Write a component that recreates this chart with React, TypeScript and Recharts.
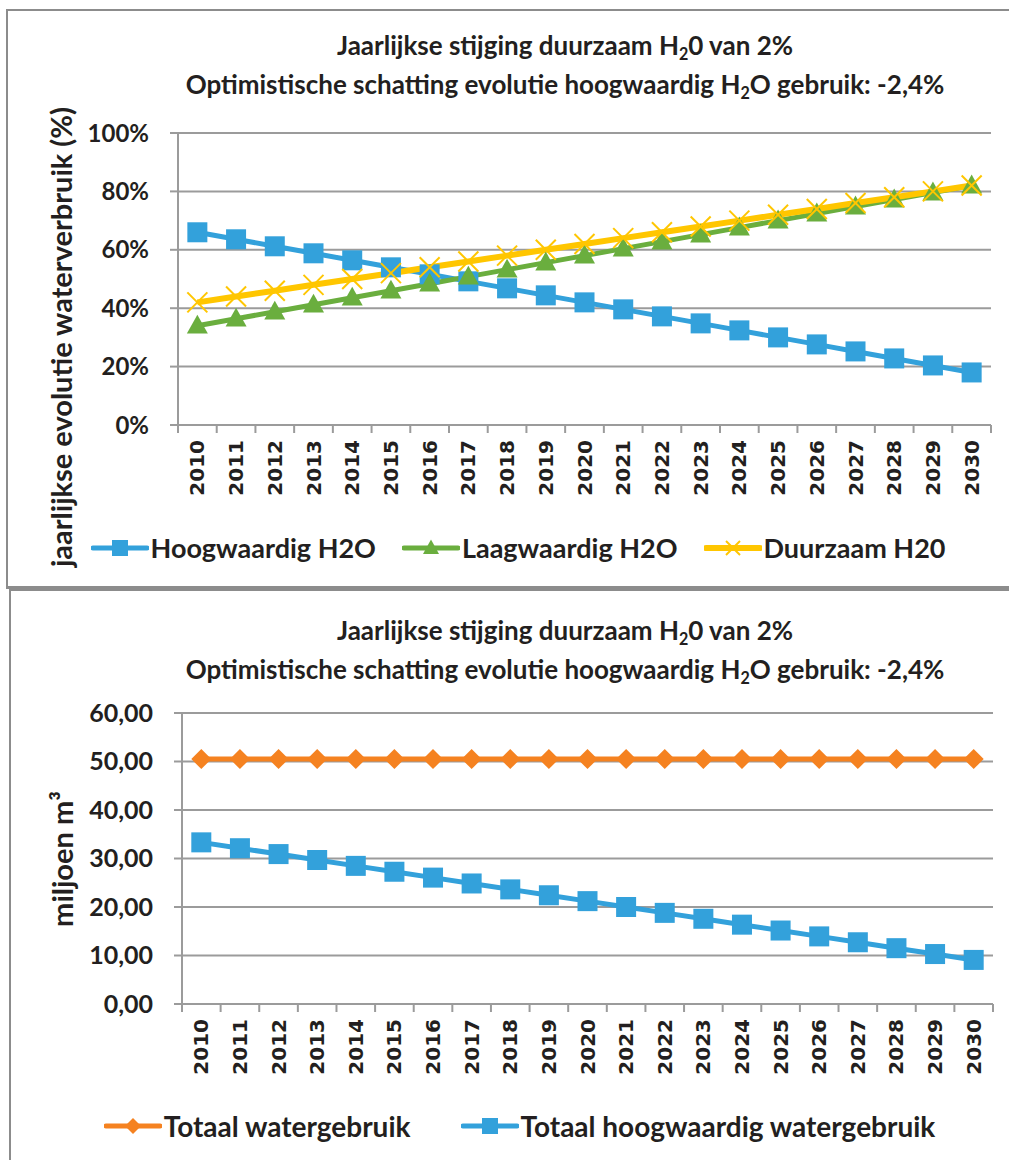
import React from "react";
import { LineChart, Line, XAxis, YAxis, CartesianGrid, Legend } from "recharts";

const years = [
  "2010", "2011", "2012", "2013", "2014", "2015", "2016", "2017", "2018", "2019", "2020",
  "2021", "2022", "2023", "2024", "2025", "2026", "2027", "2028", "2029", "2030",
];

// jaarlijkse evolutie waterverbruik (%)
const hoogwaardigPct = [66, 63.6, 61.2, 58.8, 56.4, 54, 51.6, 49.2, 46.8, 44.4, 42, 39.6, 37.2, 34.8, 32.4, 30, 27.6, 25.2, 22.8, 20.4, 18];
const laagwaardigPct = [34, 36.4, 38.8, 41.2, 43.6, 46, 48.4, 50.8, 53.2, 55.6, 58, 60.4, 62.8, 65.2, 67.6, 70, 72.4, 74.8, 77.2, 79.6, 82];
const duurzaamPct = [42, 44, 46, 48, 50, 52, 54, 56, 58, 60, 62, 64, 66, 68, 70, 72, 74, 76, 78, 80, 82];

// miljoen m3
const totaalWater = [50.5, 50.5, 50.5, 50.5, 50.5, 50.5, 50.5, 50.5, 50.5, 50.5, 50.5, 50.5, 50.5, 50.5, 50.5, 50.5, 50.5, 50.5, 50.5, 50.5, 50.5];
const totaalHoogwaardig = [33.33, 32.12, 30.91, 29.69, 28.48, 27.27, 26.06, 24.85, 23.63, 22.42, 21.21, 20.0, 18.79, 17.57, 16.36, 15.15, 13.94, 12.73, 11.51, 10.3, 9.09];

const pctTicks = [0, 20, 40, 60, 80, 100];
const volTicks = [0, 10, 20, 30, 40, 50, 60];

const pctData = years.map((year, i) => ({
  year,
  hoog: hoogwaardigPct[i],
  laag: laagwaardigPct[i],
  duurzaam: duurzaamPct[i],
}));

const volData = years.map((year, i) => ({
  year,
  totaal: totaalWater[i],
  hoogTotaal: totaalHoogwaardig[i],
}));

const BLUE = "#33a1db";
const GREEN = "#6aae3e";
const YELLOW = "#ffc600";
const ORANGE = "#f58220";
const GRID = "#9b9b9b";
const TEXT = "#231f20";
const FONT = "Lato, 'Noto Sans', sans-serif";

type Kind = "square" | "triangle" | "cross" | "diamond";

function Marker({ kind, cx, cy, size, color }: { kind: Kind; cx: number; cy: number; size: number; color: string }) {
  const h = size / 2;
  if (kind === "square") {
    return <rect x={cx - h} y={cy - h} width={size} height={size} fill={color} />;
  }
  if (kind === "triangle") {
    return <polygon points={`${cx},${cy - h * 1.05} ${cx + h},${cy + h * 0.75} ${cx - h},${cy + h * 0.75}`} fill={color} />;
  }
  if (kind === "diamond") {
    return <polygon points={`${cx},${cy - h} ${cx + h},${cy} ${cx},${cy + h} ${cx - h},${cy}`} fill={color} />;
  }
  return (
    <g stroke={color} strokeWidth={2}>
      <line x1={cx - h} y1={cy - h} x2={cx + h} y2={cy + h} />
      <line x1={cx - h} y1={cy + h} x2={cx + h} y2={cy - h} />
    </g>
  );
}

const topSeries = [
  { key: "hoog", label: "Hoogwaardig H2O", color: BLUE, kind: "square" as Kind, width: 5 },
  { key: "laag", label: "Laagwaardig H2O", color: GREEN, kind: "triangle" as Kind, width: 5 },
  { key: "duurzaam", label: "Duurzaam H20", color: YELLOW, kind: "cross" as Kind, width: 6 },
];

const bottomSeries = [
  { key: "totaal", label: "Totaal watergebruik", color: ORANGE, kind: "diamond" as Kind, width: 5 },
  { key: "hoogTotaal", label: "Totaal hoogwaardig watergebruik", color: BLUE, kind: "square" as Kind, width: 5 },
];

function SeriesLegend({ items, gap, fontSize }: { items: typeof topSeries; gap: number; fontSize: number }) {
  return (
    <div style={{ display: "flex", justifyContent: "center", gap, fontFamily: FONT, fontWeight: 700, fontSize, lineHeight: "34px", color: TEXT }}>
      {items.map((it) => (
        <div key={it.key} style={{ display: "flex", alignItems: "center" }}>
          <svg width={58} height={24} style={{ marginRight: 2 }}>
            <line x1={2} y1={12} x2={56} y2={12} stroke={it.color} strokeWidth={it.width} strokeLinecap="round" />
            <Marker kind={it.kind} cx={29} cy={12} size={it.kind === "cross" ? 14 : 16} color={it.color} />
          </svg>
          <span>{it.label}</span>
        </div>
      ))}
    </div>
  );
}

function YearTick(props: any) {
  const { x, y, payload, index } = props;
  const half = payload && payload.offset ? payload.offset : 0;
  const axisY = y - 15;
  return (
    <g>
      <line x1={x - half} y1={axisY} x2={x - half} y2={axisY + 8} stroke={GRID} strokeWidth={2} />
      {index === years.length - 1 && (
        <line x1={x + half} y1={axisY} x2={x + half} y2={axisY + 8} stroke={GRID} strokeWidth={2} />
      )}
      <text
        x={x}
        y={y}
        transform={`rotate(-90, ${x}, ${y})`}
        textAnchor="end"
        dominantBaseline="central"
        fontFamily="'DejaVu Sans', sans-serif"
        fontWeight={700}
        fontSize={20}
        fill={TEXT}
      >
        {payload.value}
      </text>
    </g>
  );
}

function Title({ top }: { top: number }) {
  const sub = { fontSize: "0.62em", verticalAlign: "-0.3em", lineHeight: 0 } as React.CSSProperties;
  return (
    <div
      style={{
        position: "absolute",
        top,
        left: 65,
        width: 1000,
        textAlign: "center",
        fontFamily: FONT,
        fontWeight: 700,
        fontSize: 26,
        lineHeight: "39px",
        color: TEXT,
      }}
    >
      <div style={{ height: 39 }}>
        Jaarlijkse stijging duurzaam H<span style={sub}>2</span>0 van 2%
      </div>
      <div style={{ height: 39 }}>
        Optimistische schatting evolutie hoogwaardig H<span style={sub}>2</span>O gebruik: -2,4%
      </div>
    </div>
  );
}

function AxisTitle({ cx, cy, children }: { cx: number; cy: number; children: React.ReactNode }) {
  return (
    <div
      style={{
        position: "absolute",
        left: cx - 300,
        top: cy - 17,
        width: 600,
        height: 34,
        lineHeight: "34px",
        textAlign: "center",
        transform: "rotate(-90deg)",
        fontFamily: FONT,
        fontWeight: 700,
        fontSize: 29,
        color: TEXT,
        whiteSpace: "nowrap",
      }}
    >
      {children}
    </div>
  );
}

const tickStyle = { fontFamily: FONT, fontWeight: 700, fill: TEXT };

export default function App() {
  return (
    <div style={{ position: "absolute", left: 0, top: 0, width: 1009, height: 1160, overflow: "hidden", background: "#fff" }}>
      <div style={{ position: "absolute", left: 6, top: 9, width: 1040, height: 575, borderTop: "2px solid #8c8c8c", borderLeft: "2px solid #8c8c8c", borderBottom: "3px solid #8c8c8c" }} />
      <div style={{ position: "absolute", left: 9, top: 588, width: 1040, height: 600, borderTop: "3px solid #8c8c8c", borderLeft: "2px solid #8c8c8c" }} />

      <Title top={26} />
      <AxisTitle cx={61} cy={337}>jaarlijkse evolutie waterverbruik (%)</AxisTitle>

      <div style={{ position: "absolute", left: 0, top: 0 }}>
        <LineChart width={1009} height={590} data={pctData} margin={{ top: 133, right: 18, left: 0, bottom: 75 }}>
          <CartesianGrid horizontal vertical={false} stroke={GRID} strokeWidth={2} />
          <XAxis
            dataKey="year"
            scale="band"
            height={90}
            interval={0}
            tickLine={false}
            tickSize={8}
            tickMargin={7}
            axisLine={{ stroke: GRID, strokeWidth: 2 }}
            tick={<YearTick />}
          />
          <YAxis
            width={178}
            domain={[0, 100]}
            ticks={pctTicks}
            tickFormatter={(v: number) => `${v}%`}
            tickSize={8}
            tickMargin={21}
            tickLine={{ stroke: GRID, strokeWidth: 2 }}
            axisLine={{ stroke: GRID, strokeWidth: 2 }}
            tick={{ ...tickStyle, fontSize: 24 }}
          />
          <Legend
            verticalAlign="middle"
            wrapperStyle={{ top: 531, left: 0, width: 1036 }}
            content={() => <SeriesLegend items={topSeries} gap={26} fontSize={27} />}
          />
          {topSeries.map((s) => (
            <Line
              key={s.key}
              dataKey={s.key}
              stroke={s.color}
              strokeWidth={s.width}
              isAnimationActive={false}
              dot={(p: any) => <Marker key={`${s.key}-${p.index}`} kind={s.kind} cx={p.cx} cy={p.cy} size={s.kind === "triangle" ? 21 : 20} color={s.color} />}
              activeDot={false}
            />
          ))}
        </LineChart>
      </div>

      <Title top={611} />
      <AxisTitle cx={62} cy={859}>miljoen m³</AxisTitle>

      <div style={{ position: "absolute", left: 0, top: 588 }}>
        <LineChart width={1009} height={572} data={volData} margin={{ top: 125, right: 16, left: 0, bottom: 66 }}>
          <CartesianGrid horizontal vertical={false} stroke={GRID} strokeWidth={2} />
          <XAxis
            dataKey="year"
            scale="band"
            height={90}
            interval={0}
            tickLine={false}
            tickSize={8}
            tickMargin={7}
            axisLine={{ stroke: GRID, strokeWidth: 2 }}
            tick={<YearTick />}
          />
          <YAxis
            width={182}
            domain={[0, 60]}
            ticks={volTicks}
            tickFormatter={(v: number) => v.toFixed(2).replace(".", ",")}
            tickSize={8}
            tickMargin={21}
            tickLine={{ stroke: GRID, strokeWidth: 2 }}
            axisLine={{ stroke: GRID, strokeWidth: 2 }}
            tick={{ ...tickStyle, fontSize: 25 }}
          />
          <Legend
            verticalAlign="middle"
            wrapperStyle={{ top: 521, left: 0, width: 1039 }}
            content={() => <SeriesLegend items={bottomSeries} gap={50} fontSize={28} />}
          />
          {bottomSeries.map((s) => (
            <Line
              key={s.key}
              dataKey={s.key}
              stroke={s.color}
              strokeWidth={s.width}
              isAnimationActive={false}
              dot={(p: any) => <Marker key={`${s.key}-${p.index}`} kind={s.kind} cx={p.cx} cy={p.cy} size={20} color={s.color} />}
              activeDot={false}
            />
          ))}
        </LineChart>
      </div>
    </div>
  );
}
